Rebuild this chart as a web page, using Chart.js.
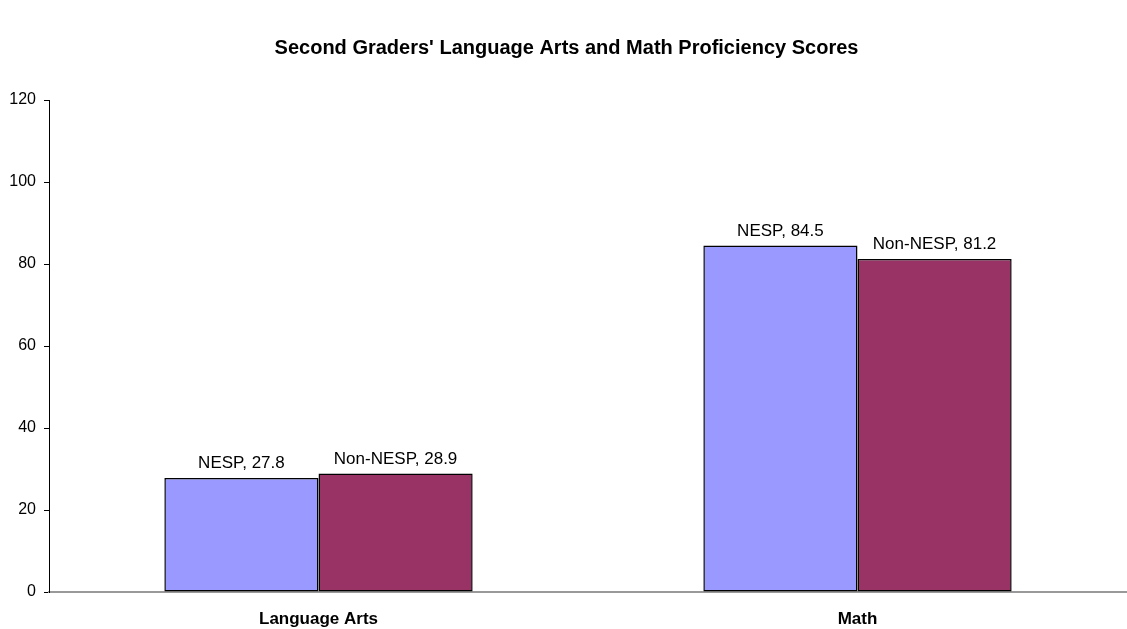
<!DOCTYPE html>
<html>
<head>
<meta charset="utf-8">
<script src="https://cdn.jsdelivr.net/npm/chart.js@4"></script>
<style>
  html, body { margin: 0; padding: 0; background: #fff; }
  #wrap { width: 1127px; height: 629px; }
</style>
</head>
<body>
<div id="wrap"><canvas id="myChart"></canvas></div>
<script>
const categories = ['Language Arts', 'Math'];
const seriesNames = ['NESP', 'Non-NESP'];
const nespScores = [27.8, 84.5];
const nonNespScores = [28.9, 81.2];
const yTicks = [0, 20, 40, 60, 80, 100, 120];

const font = "'Liberation Sans', Arial, sans-serif";

// labels like "NESP, 27.8" over each bar
const barLabels = {
    id: 'barLabels',
    afterDatasetsDraw(chart) {
        const ctx = chart.ctx;
        ctx.save();
        ctx.font = '17px ' + font;
        ctx.fillStyle = '#000';
        ctx.textAlign = 'center';
        ctx.textBaseline = 'alphabetic';
        chart.data.datasets.forEach((ds, i) => {
            chart.getDatasetMeta(i).data.forEach((bar, j) => {
                ctx.fillText(ds.label + ', ' + ds.data[j], bar.x, bar.y - 10);
            });
        });
        ctx.restore();
    }
};

const grafico = document.getElementById('myChart');
const myChart = new Chart(grafico, {
    type: 'bar',
    data: {
        labels: categories,
        datasets: [{
            label: seriesNames[0],
            data: nespScores,
            backgroundColor: '#9999FF',
            borderColor: '#000',
            borderWidth: 1.5,
            borderSkipped: false
        }, {
            label: seriesNames[1],
            data: nonNespScores,
            backgroundColor: '#993366',
            borderColor: '#000',
            borderWidth: 1.5,
            borderSkipped: false
        }]
    },
    options: {
        responsive: true,
        maintainAspectRatio: false,
        animation: false,
        categoryPercentage: 0.572,
        barPercentage: 1,
        layout: { padding: { left: 0, right: -6, top: 0, bottom: 0 } },
        plugins: {
            legend: { display: false },
            tooltip: { enabled: false },
            title: {
                display: true,
                text: "Second Graders' Language Arts and Math Proficiency Scores",
                color: '#000',
                font: { family: font, size: 20, weight: 'bold' },
                padding: { top: 36, bottom: 40 }
            }
        },
        scales: {
            x: {
                grid: { display: false, drawTicks: false },
                border: { color: '#999', width: 2 },
                afterFit(axis) { axis.height = 37; },
                ticks: {
                    color: '#000',
                    padding: 17,
                    font: { family: font, size: 17, weight: 'bold' }
                }
            },
            y: {
                min: 0,
                max: 120,
                afterBuildTicks(axis) {
                    axis.ticks = yTicks.map(v => ({ value: v }));
                },
                afterFit(axis) { axis.width = 49; },
                grid: { drawOnChartArea: false, drawTicks: true, tickLength: 5, tickColor: '#000' },
                border: { color: '#000', width: 1 },
                ticks: {
                    color: '#000',
                    padding: 8,
                    font: { family: font, size: 16 }
                }
            }
        }
    },
    plugins: [barLabels]
});
</script>
</body>
</html>
